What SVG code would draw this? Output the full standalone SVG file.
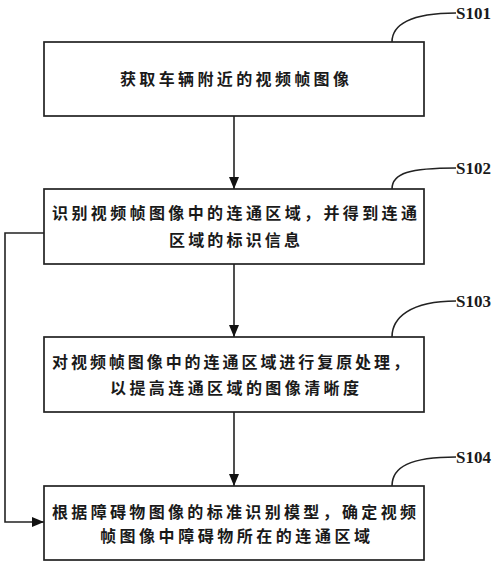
<svg xmlns="http://www.w3.org/2000/svg" width="500" height="566" viewBox="0 0 500 566">
<style>
.box{fill:#fff;stroke:#222;stroke-width:1.7}
.t{font-family:"Noto Sans CJK SC",sans-serif;font-size:16px;font-weight:bold;fill:#1a1a1a}
.lbl{font-family:"Liberation Serif",serif;font-size:17px;font-weight:bold;fill:#1a1a1a}
.ln{fill:none;stroke:#222;stroke-width:1.6}
</style>
<defs>
<marker id="ah" viewBox="0 0 12 10" refX="12" refY="5" markerWidth="12" markerHeight="10" markerUnits="userSpaceOnUse" orient="auto">
<path d="M0,0 L12,5 L0,10 Z" fill="#111"/>
</marker>
</defs>
<rect width="500" height="566" fill="#fff"/>
<g id="connectors">
<line class="ln" x1="234" y1="116" x2="234" y2="189" marker-end="url(#ah)"/>
<line class="ln" x1="234" y1="264" x2="234" y2="337" marker-end="url(#ah)"/>
<line class="ln" x1="234" y1="412" x2="234" y2="486" marker-end="url(#ah)"/>
<polyline class="ln" points="44,233 5,233 5,522 44,522" marker-end="url(#ah)"/>
</g>
<g id="S101">
<rect class="box" x="44" y="42" width="380" height="74"/>
<text class="t" x="120" y="85" textLength="229" lengthAdjust="spacing">获取车辆附近的视频帧图像</text>
<path class="ln" d="M392,42 C392,25 410,13 456,13"/>
<text class="lbl" x="456" y="19">S101</text>
</g>
<g id="S102">
<rect class="box" x="44" y="189" width="380" height="75"/>
<text class="t" x="52" y="219" textLength="365" lengthAdjust="spacing">识别视频帧图像中的连通区域，并得到连通</text>
<text class="t" x="169" y="246" textLength="131" lengthAdjust="spacing">区域的标识信息</text>
<path class="ln" d="M392,189 C392,173 410,168 456,168"/>
<text class="lbl" x="456" y="174">S102</text>
</g>
<g id="S103">
<rect class="box" x="44" y="337" width="380" height="75"/>
<text class="t" x="52" y="368" textLength="357" lengthAdjust="spacing">对视频帧图像中的连通区域进行复原处理，</text>
<text class="t" x="110" y="394" textLength="249" lengthAdjust="spacing">以提高连通区域的图像清晰度</text>
<path class="ln" d="M392,337 C392,318 410,301 456,301"/>
<text class="lbl" x="456" y="307">S103</text>
</g>
<g id="S104">
<rect class="box" x="44" y="486" width="380" height="74"/>
<text class="t" x="52" y="518" textLength="364" lengthAdjust="spacing">根据障碍物图像的标准识别模型，确定视频</text>
<text class="t" x="100" y="542" textLength="270" lengthAdjust="spacing">帧图像中障碍物所在的连通区域</text>
<path class="ln" d="M392,486 C392,467 410,457 456,457"/>
<text class="lbl" x="456" y="463">S104</text>
</g>
</svg>
